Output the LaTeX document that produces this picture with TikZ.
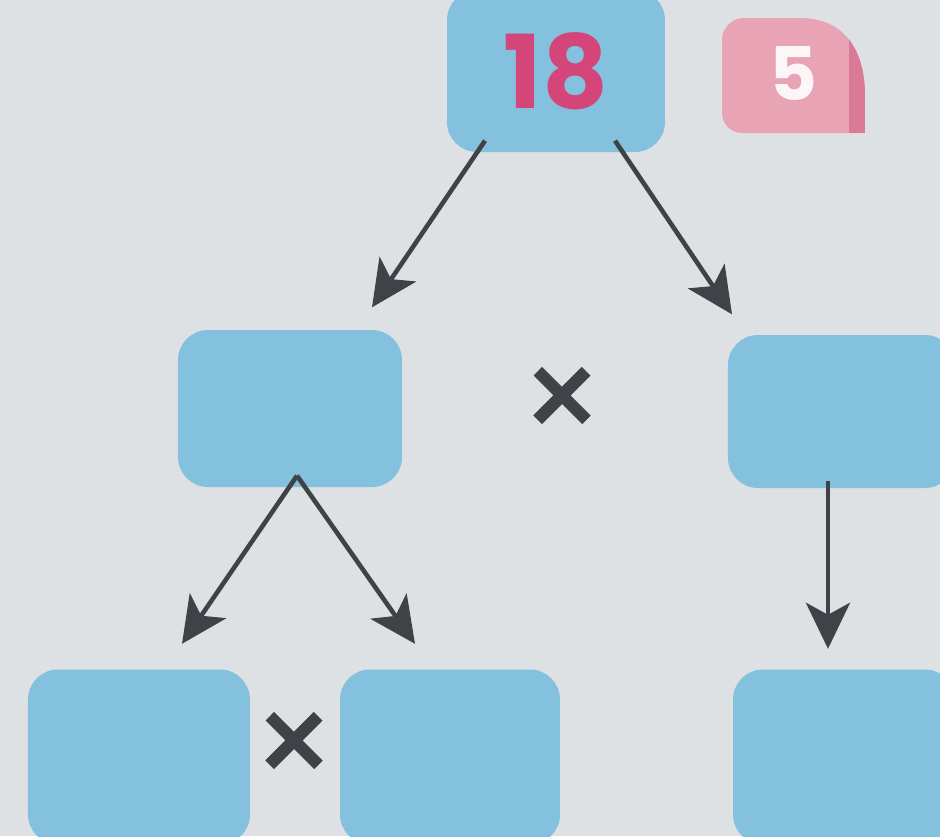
\documentclass[tikz,border=0pt]{standalone}
\usepackage{fontspec}
\setmainfont{Poppins}
\newfontfamily\timesfont[FakeBold=1.3]{Poppins}
\usepackage{tikz}
\usetikzlibrary{arrows.meta,positioning}

\definecolor{paper}{HTML}{DDE1E3}
\definecolor{boxblue}{HTML}{84C1DE}
\definecolor{numpink}{HTML}{D4457A}
\definecolor{badgepink}{HTML}{E8A3B5}
\definecolor{badgedark}{HTML}{D97A96}
\definecolor{arrowgray}{HTML}{3F4246}

\newcommand{\badgepath}{(7.22,7.23) -- (7.22,7.96) arc[start angle=180, end angle=90, radius=0.22]
  -- (8.0,8.18) .. controls (8.45,8.18) and (8.65,7.85) .. (8.65,7.40) -- (8.65,7.03)
  -- (7.42,7.03) arc[start angle=270, end angle=180, radius=0.20] -- cycle}

\begin{document}
\begin{tikzpicture}[
  box/.style={fill=boxblue, rounded corners=0.3cm, inner sep=0pt,
              font=\fontsize{29}{29}\selectfont\bfseries, text=numpink},
  arrow/.style={-{Stealth[length=4.6mm, width=4.4mm, inset=1.2mm]},
                line width=1.3pt, draw=arrowgray},
  timesmark/.style={font=\timesfont\fontsize{36}{36}\selectfont, text=arrowgray, inner sep=0pt}
]
\useasboundingbox (0,0) rectangle (9.4,8.36);
\fill[paper] (0,0) rectangle (9.4,8.36);
\clip (0,0) rectangle (9.4,8.36);

% badge
\fill[badgepink] \badgepath;
\begin{scope}
  \clip \badgepath;
  \fill[badgedark] (8.49,7.03) rectangle (8.7,8.2);
\end{scope}
\node[text=white!90!badgepink, font=\fontsize{21}{21}\selectfont\bfseries, inner sep=0pt] (badge) at (7.93,7.62) {5};

% boxes
\node[box, minimum width=2.18cm, minimum height=1.62cm] (top) at (5.56,7.65) {18};
\node[box, minimum width=2.24cm, minimum height=1.57cm] (midL) at (2.90,4.275) {};
\node[box, minimum width=2.27cm, minimum height=1.53cm] (midR) at (8.415,4.245) {};
\node[box, minimum width=2.22cm, minimum height=1.75cm] (botL) at (1.39,0.79) {};
\node[box, minimum width=2.20cm, minimum height=1.75cm] (botM) at (4.50,0.79) {};
\node[box, minimum width=2.22cm, minimum height=1.75cm] (botR) at (8.44,0.79) {};

% multiplication signs
\node[timesmark] (timesA) at (5.62,4.31) {×};
\node[timesmark] (timesB) at (2.94,0.86) {×};

% arrows
\draw[arrow] ([xshift=-0.71cm,yshift=0.12cm]top.south) -- ([xshift=0.82cm,yshift=0.22cm]midL.north);
\draw[arrow] ([xshift=0.59cm,yshift=0.12cm]top.south) -- ([xshift=-1.095cm,yshift=0.20cm]midR.north);
\draw[arrow] ([xshift=0.07cm,yshift=0.12cm]midL.south) -- ([xshift=0.43cm,yshift=0.25cm]botL.north);
\draw[arrow] ([xshift=0.07cm,yshift=0.12cm]midL.south) -- ([xshift=-0.35cm,yshift=0.25cm]botM.north);
\draw[arrow] ([xshift=-0.135cm,yshift=0.08cm]midR.south) -- ([xshift=-0.16cm,yshift=0.20cm]botR.north);
\end{tikzpicture}
\end{document}
